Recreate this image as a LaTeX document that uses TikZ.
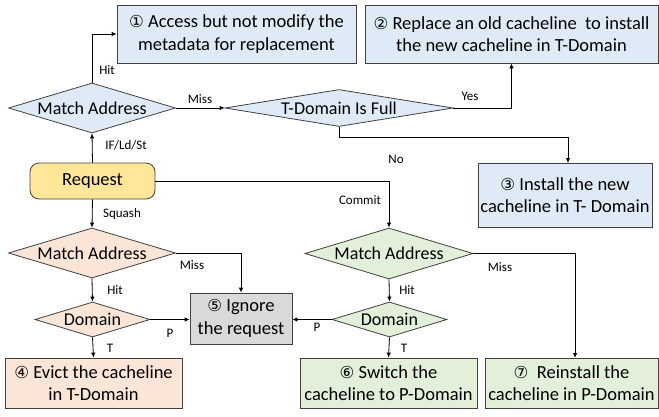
\documentclass[tikz,border=0pt]{standalone}
\usepackage{fontspec}
\setmainfont{Carlito}
\newfontfamily\circfont{DejaVu Sans}
\usetikzlibrary{shapes.geometric,arrows.meta,calc}
\definecolor{bfill}{HTML}{DEEBF7}
\definecolor{ofill}{HTML}{FBE5D6}
\definecolor{gfill}{HTML}{E2F0D9}
\definecolor{grfill}{HTML}{D9D9D9}
\definecolor{yfill}{HTML}{FFE699}
\definecolor{edge}{HTML}{404040}
\newcommand{\cnum}[1]{{\circfont\fontsize{16.5}{22}\selectfont #1}}
\tikzset{
  boxst/.style={draw=edge, line width=0.8pt, inner sep=0pt, align=center,
    font=\fontsize{18.5}{22.5}\selectfont},
  diast/.style={draw=edge, line width=0.8pt, diamond, inner sep=0pt},
  diatext/.style={font=\fontsize{18}{20}\selectfont},
  arr/.style={draw=black, line width=0.8pt, -{Latex[length=5pt,width=4.5pt]}},
  ln/.style={draw=black, line width=0.8pt},
  lab/.style={font=\fontsize{13}{15}\selectfont, inner sep=0pt}
}
\begin{document}
\begin{tikzpicture}[x=1pt,y=-1pt]
\useasboundingbox (0,0) rectangle (659,416);
% boxes
\node[boxst, fill=bfill, minimum width=239pt, minimum height=58pt] (b1) at (236.5,34)
  {\cnum{①} Access but not modify the\\metadata for replacement};
\node[boxst, fill=bfill, minimum width=293pt, minimum height=58pt] (b2) at (511.5,34)
  {\cnum{②} Replace an old cacheline\ \ to install\\the new cacheline in T-Domain};
\node[boxst, fill=bfill, minimum width=174pt, minimum height=64pt] (b3) at (565,195)
  {\cnum{③} Install the new\\cacheline in T- Domain};
\node[boxst, fill=yfill, rounded corners=9pt, minimum width=125pt, minimum height=36pt] (req) at (92.5,181)
  {Request};
\node[boxst, fill=ofill, minimum width=177pt, minimum height=50pt] (b4) at (93.5,383)
  {\cnum{④} Evict the cacheline\\in T-Domain};
\node[boxst, fill=grfill, minimum width=102pt, minimum height=51pt] (b5) at (241,318.5)
  {\cnum{⑤} Ignore\\the request};
\node[boxst, fill=gfill, minimum width=177pt, minimum height=50pt] (b6) at (388.5,383)
  {\cnum{⑥} Switch the\\cacheline to P-Domain};
\node[boxst, fill=gfill, minimum width=173pt, minimum height=50pt] (b7) at (571.5,383)
  {\cnum{⑦}\ \ Reinstall the\\cacheline in P-Domain};
% diamonds
\node[diast, fill=bfill, minimum width=167pt, minimum height=50pt] (ma1) at (92,108) {};
\node[diatext] at (ma1.center) {Match Address};
\node[diast, fill=bfill, minimum width=228pt, minimum height=37pt] (td) at (339,108) {};
\node[diatext] at (td.center) {T-Domain Is Full};
\node[diast, fill=ofill, minimum width=167pt, minimum height=50pt] (mao) at (92,253) {};
\node[diatext] at (mao.center) {Match Address};
\node[diast, fill=ofill, minimum width=115pt, minimum height=35pt] (domo) at (92.5,319.5) {};
\node[diatext] at (domo.center) {Domain};
\node[diast, fill=gfill, minimum width=168pt, minimum height=51pt] (mag) at (389,253.5) {};
\node[diatext] at (mag.center) {Match Address};
\node[diast, fill=gfill, minimum width=115pt, minimum height=35pt] (domg) at (389.5,319.5) {};
\node[diatext] at (domg.center) {Domain};
% connectors
\draw[arr] (ma1.north) |- (b1.west);
\node[lab] (lhit1) at (107,70) {Hit};
\draw[arr] (ma1.east) -- (td.west);
\node[lab] (lmiss1) at (200,99) {Miss};
\draw[arr] (td.east) -| (b2.south);
\node[lab] (lyes) at (470,96) {Yes};
\coordinate (noturn) at (340,137);
\coordinate (b3in) at (568,163);
\draw[arr] (td.south) -- (td.south |- noturn) -| (b3in);
\node[lab] (lno) at (396,159) {No};
\draw[arr] (req.north) -- (ma1.south);
\node[lab] (lif) at (126,145) {IF/Ld/St};
\draw[arr] (req.east) -| (mag.north);
\node[lab] (lcommit) at (360,200) {Commit};
\draw[arr] (req.south) -- (mao.north);
\node[lab] (lsquash) at (122,214) {Squash};
\draw[arr] (mao.east) -| (b5.north);
\node[lab] (lmiss2) at (192,265) {Miss};
\draw[arr] (mao.south) -- (domo.north);
\node[lab] (lhit2) at (115,290) {Hit};
\draw[arr] (domo.east) -- (domo.east -| b5.west);
\node[lab] (lp1) at (170,333) {P};
\draw[arr] (domo.south) -- (b4.north);
\node[lab] (lt1) at (110,348) {T};
\coordinate (b7in) at (575,358);
\draw[arr] (mag.east) -| (b7in);
\node[lab] (lmiss3) at (500,267) {Miss};
\draw[arr] (mag.south) -- (domg.north);
\node[lab] (lhit3) at (407,290) {Hit};
\draw[arr] (domg.west) -- (domg.west -| b5.east);
\node[lab] (lp2) at (317,327) {P};
\draw[arr] (domg.south) -- (b6.north);
\node[lab] (lt2) at (404,348) {T};
\end{tikzpicture}
\end{document}
